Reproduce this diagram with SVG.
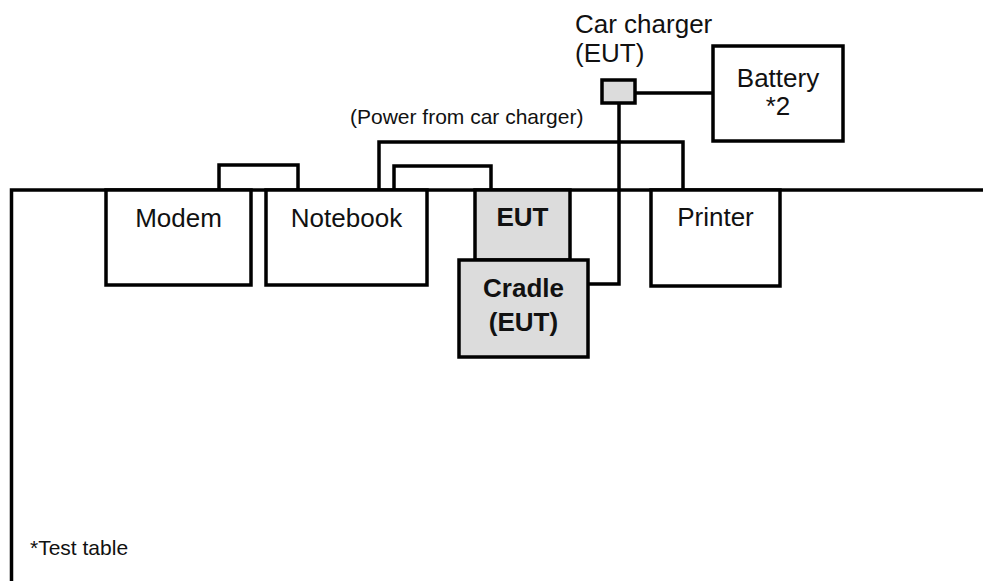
<svg xmlns="http://www.w3.org/2000/svg" width="983" height="581" viewBox="0 0 983 581">
<style>
.b{fill:#fff;stroke:#000;stroke-width:3.5}
.g{fill:#dcdcdc;stroke:#000;stroke-width:3.5}
.w{fill:none;stroke:#000;stroke-width:3.5}
text{font-family:"Liberation Sans",Arial,sans-serif;font-size:26px;fill:#111;text-anchor:middle}
.bold{font-weight:bold}
.s{font-size:21px;text-anchor:start}
</style>
<rect width="983" height="581" fill="#fff"/>
<g id="table">
<path class="w" d="M11.5 581 V190 H983"/>
<text class="s" x="30" y="555">*Test table</text>
</g>
<g id="connectors">
<path class="w" d="M219 190 V165 H298 V190"/>
<path class="w" d="M394 190 V166 H491 V190"/>
<path class="w" d="M379 190 V142 H683 V190"/>
<path class="w" d="M619 103 V284 H588"/>
<path class="w" d="M635 93 H713"/>
</g>
<g id="modem">
<rect class="b" x="106" y="190" width="145" height="95"/>
<text x="178.5" y="227">Modem</text>
</g>
<g id="notebook">
<rect class="b" x="266" y="190" width="161" height="95"/>
<text x="346.5" y="227">Notebook</text>
</g>
<g id="eut">
<rect class="g" x="475" y="190" width="95" height="70"/>
<text class="bold" x="522.5" y="226">EUT</text>
</g>
<g id="cradle">
<rect class="g" x="459" y="260" width="129" height="97"/>
<text class="bold" x="523.5" y="297">Cradle</text>
<text class="bold" x="523.5" y="331">(EUT)</text>
</g>
<g id="printer">
<rect class="b" x="651" y="190" width="129" height="96"/>
<text x="715.5" y="226">Printer</text>
</g>
<g id="charger">
<rect class="g" x="602" y="80" width="33" height="23"/>
<text x="575" y="33" style="text-anchor:start">Car charger</text>
<text x="575" y="62" style="text-anchor:start">(EUT)</text>
</g>
<g id="battery">
<rect class="b" x="713" y="46" width="130" height="95"/>
<text x="778" y="87">Battery</text>
<text x="778" y="115">*2</text>
</g>
<g id="power-label">
<text class="s" x="350" y="124">(Power from car charger)</text>
</g>
</svg>
